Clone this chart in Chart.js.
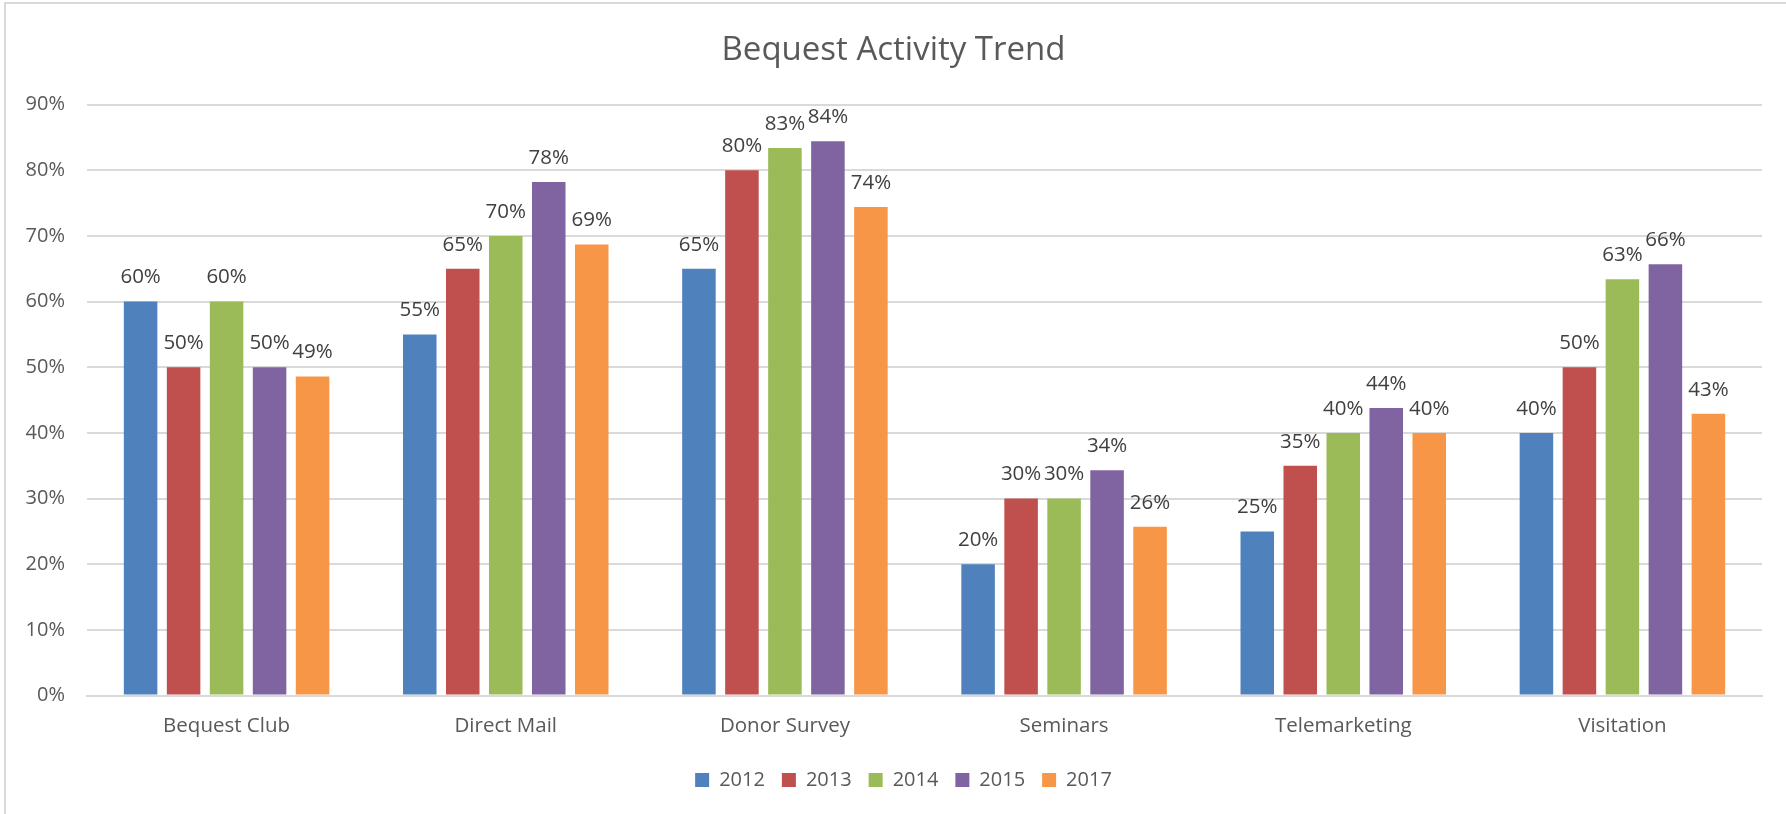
<!DOCTYPE html>
<html>
<head>
<meta charset="utf-8">
<script src="https://cdn.jsdelivr.net/npm/chart.js@4.4.0/dist/chart.umd.min.js"></script>
<style>
    body { margin: 0; background: #fff; }
    #wrap { position: relative; width: 1786px; height: 814px; }
    #frame {
        position: absolute; left: 4px; top: 2px; width: 1800px; height: 830px;
        border-left: 2px solid #d9d9d9; border-top: 2px solid #d9d9d9;
        pointer-events: none;
    }
</style>
</head>
<body>
<div id="wrap">
    <canvas id="bequestChart"></canvas>
    <div id="frame"></div>
</div>
<script>
// --- DATA ---
const categories = ['Bequest Club', 'Direct Mail', 'Donor Survey', 'Seminars', 'Telemarketing', 'Visitation'];
const years = ['2012', '2013', '2014', '2015', '2017'];

// nilai dalam persen
const values2012 = [60, 55, 65, 20, 25, 40];
const values2013 = [50, 65, 80, 30, 35, 50];
const values2014 = [60, 70, 83.4, 30, 40, 63.4];
const values2015 = [50, 78.2, 84.4, 34.3, 43.8, 65.7];
const values2017 = [48.6, 68.7, 74.4, 25.7, 40, 42.9];

const yTicks = [0, 10, 20, 30, 40, 50, 60, 70, 80, 90];

const colors = ['#4F81BD', '#C0504D', '#9BBB59', '#8064A2', '#F79646'];
const textColor = '#595959';
const labelColor = '#404040';
const fontFamily = '"Open Sans", sans-serif';

const seriesValues = [values2012, values2013, values2014, values2015, values2017];

// --- PLUGIN LABEL DI ATAS BATANG ---
const barLabels = {
    id: 'barLabels',
    afterDatasetsDraw(chart) {
        const ctx = chart.ctx;
        ctx.save();
        ctx.font = '20.5px ' + fontFamily;
        ctx.fillStyle = labelColor;
        ctx.textAlign = 'center';
        ctx.textBaseline = 'middle';
        chart.data.datasets.forEach((ds, i) => {
            chart.getDatasetMeta(i).data.forEach((bar, j) => {
                ctx.fillText(Math.round(ds.data[j]) + '%', bar.x, bar.y - 24);
            });
        });
        ctx.restore();
    }
};

// geser legenda sedikit ke kanan (seperti di Excel)
const legendShift = {
    id: 'legendShift',
    afterLayout(chart) {
        if (chart.legend) {
            chart.legend.left += 10;
            chart.legend.right += 10;
        }
    }
};

const ctx = document.getElementById('bequestChart').getContext('2d');
const bequestChart = new Chart(ctx, {
    type: 'bar',
    data: {
        labels: categories,
        datasets: years.map((y, i) => ({
            label: y,
            data: seriesValues[i],
            backgroundColor: colors[i],
            borderWidth: 0,
            barPercentage: 0.78,
            categoryPercentage: 0.77
        }))
    },
    options: {
        responsive: true,
        maintainAspectRatio: false,
        animation: false,
        layout: { padding: { left: 25, right: 24, top: 8, bottom: 14 } },
        plugins: {
            title: {
                display: true,
                text: 'Bequest Activity Trend',
                color: textColor,
                font: { family: fontFamily, size: 33, weight: 'normal' },
                padding: { top: 23, bottom: 34 }
            },
            legend: {
                position: 'bottom',
                labels: {
                    color: textColor,
                    font: { family: fontFamily, size: 20 },
                    boxWidth: 14,
                    boxHeight: 14,
                    padding: 17
                }
            },
            tooltip: { enabled: false }
        },
        scales: {
            x: {
                afterFit: (scale) => { scale.height -= 4; },
                grid: { display: false, drawTicks: false },
                border: { color: '#d9d9d9', width: 2 },
                ticks: {
                    color: textColor,
                    font: { family: fontFamily, size: 20.5, lineHeight: 0.95 },
                    padding: 21
                }
            },
            y: {
                min: 0,
                max: 90,
                afterFit: (scale) => { scale.width = 62; },
                afterBuildTicks: (scale) => { scale.ticks = yTicks.map(v => ({ value: v })); },
                grid: { color: '#d9d9d9', lineWidth: 2, drawTicks: false },
                border: { display: false },
                ticks: {
                    color: textColor,
                    font: { family: fontFamily, size: 20 },
                    padding: 22,
                    callback: (v) => v + '%'
                }
            }
        }
    },
    plugins: [barLabels, legendShift]
});
</script>
</body>
</html>
